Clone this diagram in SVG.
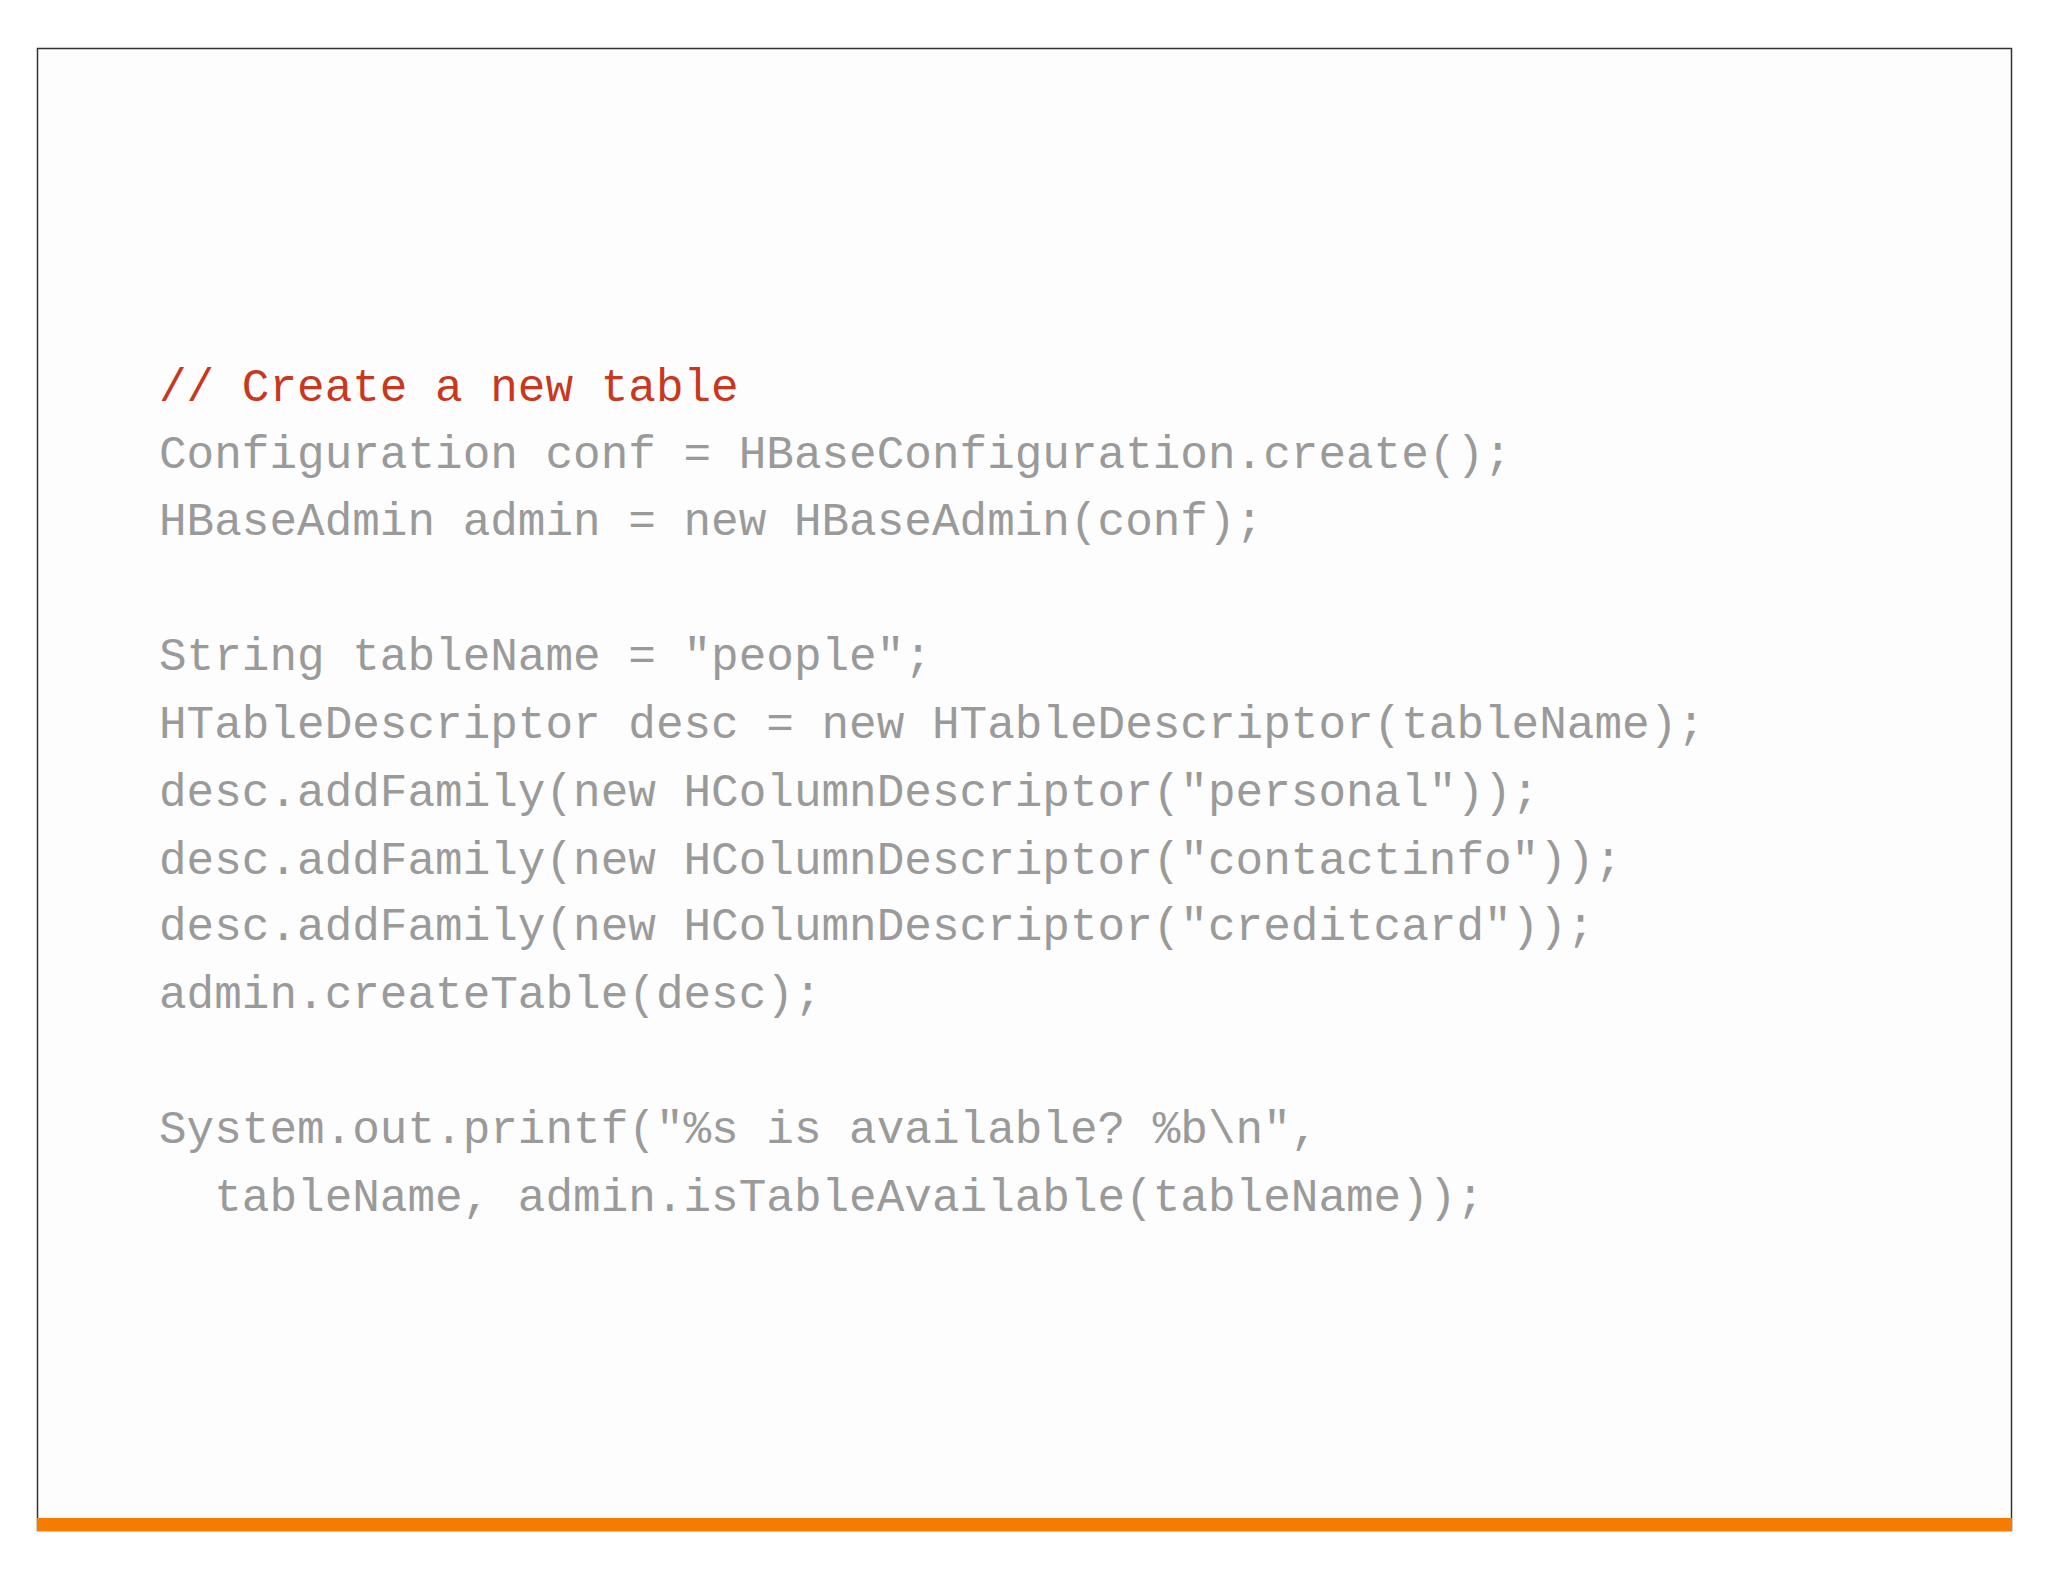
<svg xmlns="http://www.w3.org/2000/svg" width="2048" height="1582" viewBox="0 0 2048 1582">
<style>
text{font-family:"Liberation Mono","DejaVu Sans Mono",monospace;font-size:46px;fill:#9a9a9a;white-space:pre}
.c{fill:#c8381e}
</style>
<rect width="2048" height="1582" fill="#fff"/>
<rect x="37.5" y="48.5" width="1974" height="1482" fill="#fdfdfd" stroke="#333" stroke-width="1.5"/>
<rect x="37" y="1518" width="1975" height="13" fill="#f57c00"/>
<g id="code">
<text x="159" y="401" class="c">// Create a new table</text>
<text x="159" y="468">Configuration conf = HBaseConfiguration.create();</text>
<text x="159" y="535">HBaseAdmin admin = new HBaseAdmin(conf);</text>
<text x="159" y="670">String tableName = "people";</text>
<text x="159" y="738">HTableDescriptor desc = new HTableDescriptor(tableName);</text>
<text x="159" y="806">desc.addFamily(new HColumnDescriptor("personal"));</text>
<text x="159" y="874">desc.addFamily(new HColumnDescriptor("contactinfo"));</text>
<text x="159" y="940">desc.addFamily(new HColumnDescriptor("creditcard"));</text>
<text x="159" y="1008">admin.createTable(desc);</text>
<text x="159" y="1143">System.out.printf("%s is available? %b\n",</text>
<text x="159" y="1211">  tableName, admin.isTableAvailable(tableName));</text>
</g>
</svg>
